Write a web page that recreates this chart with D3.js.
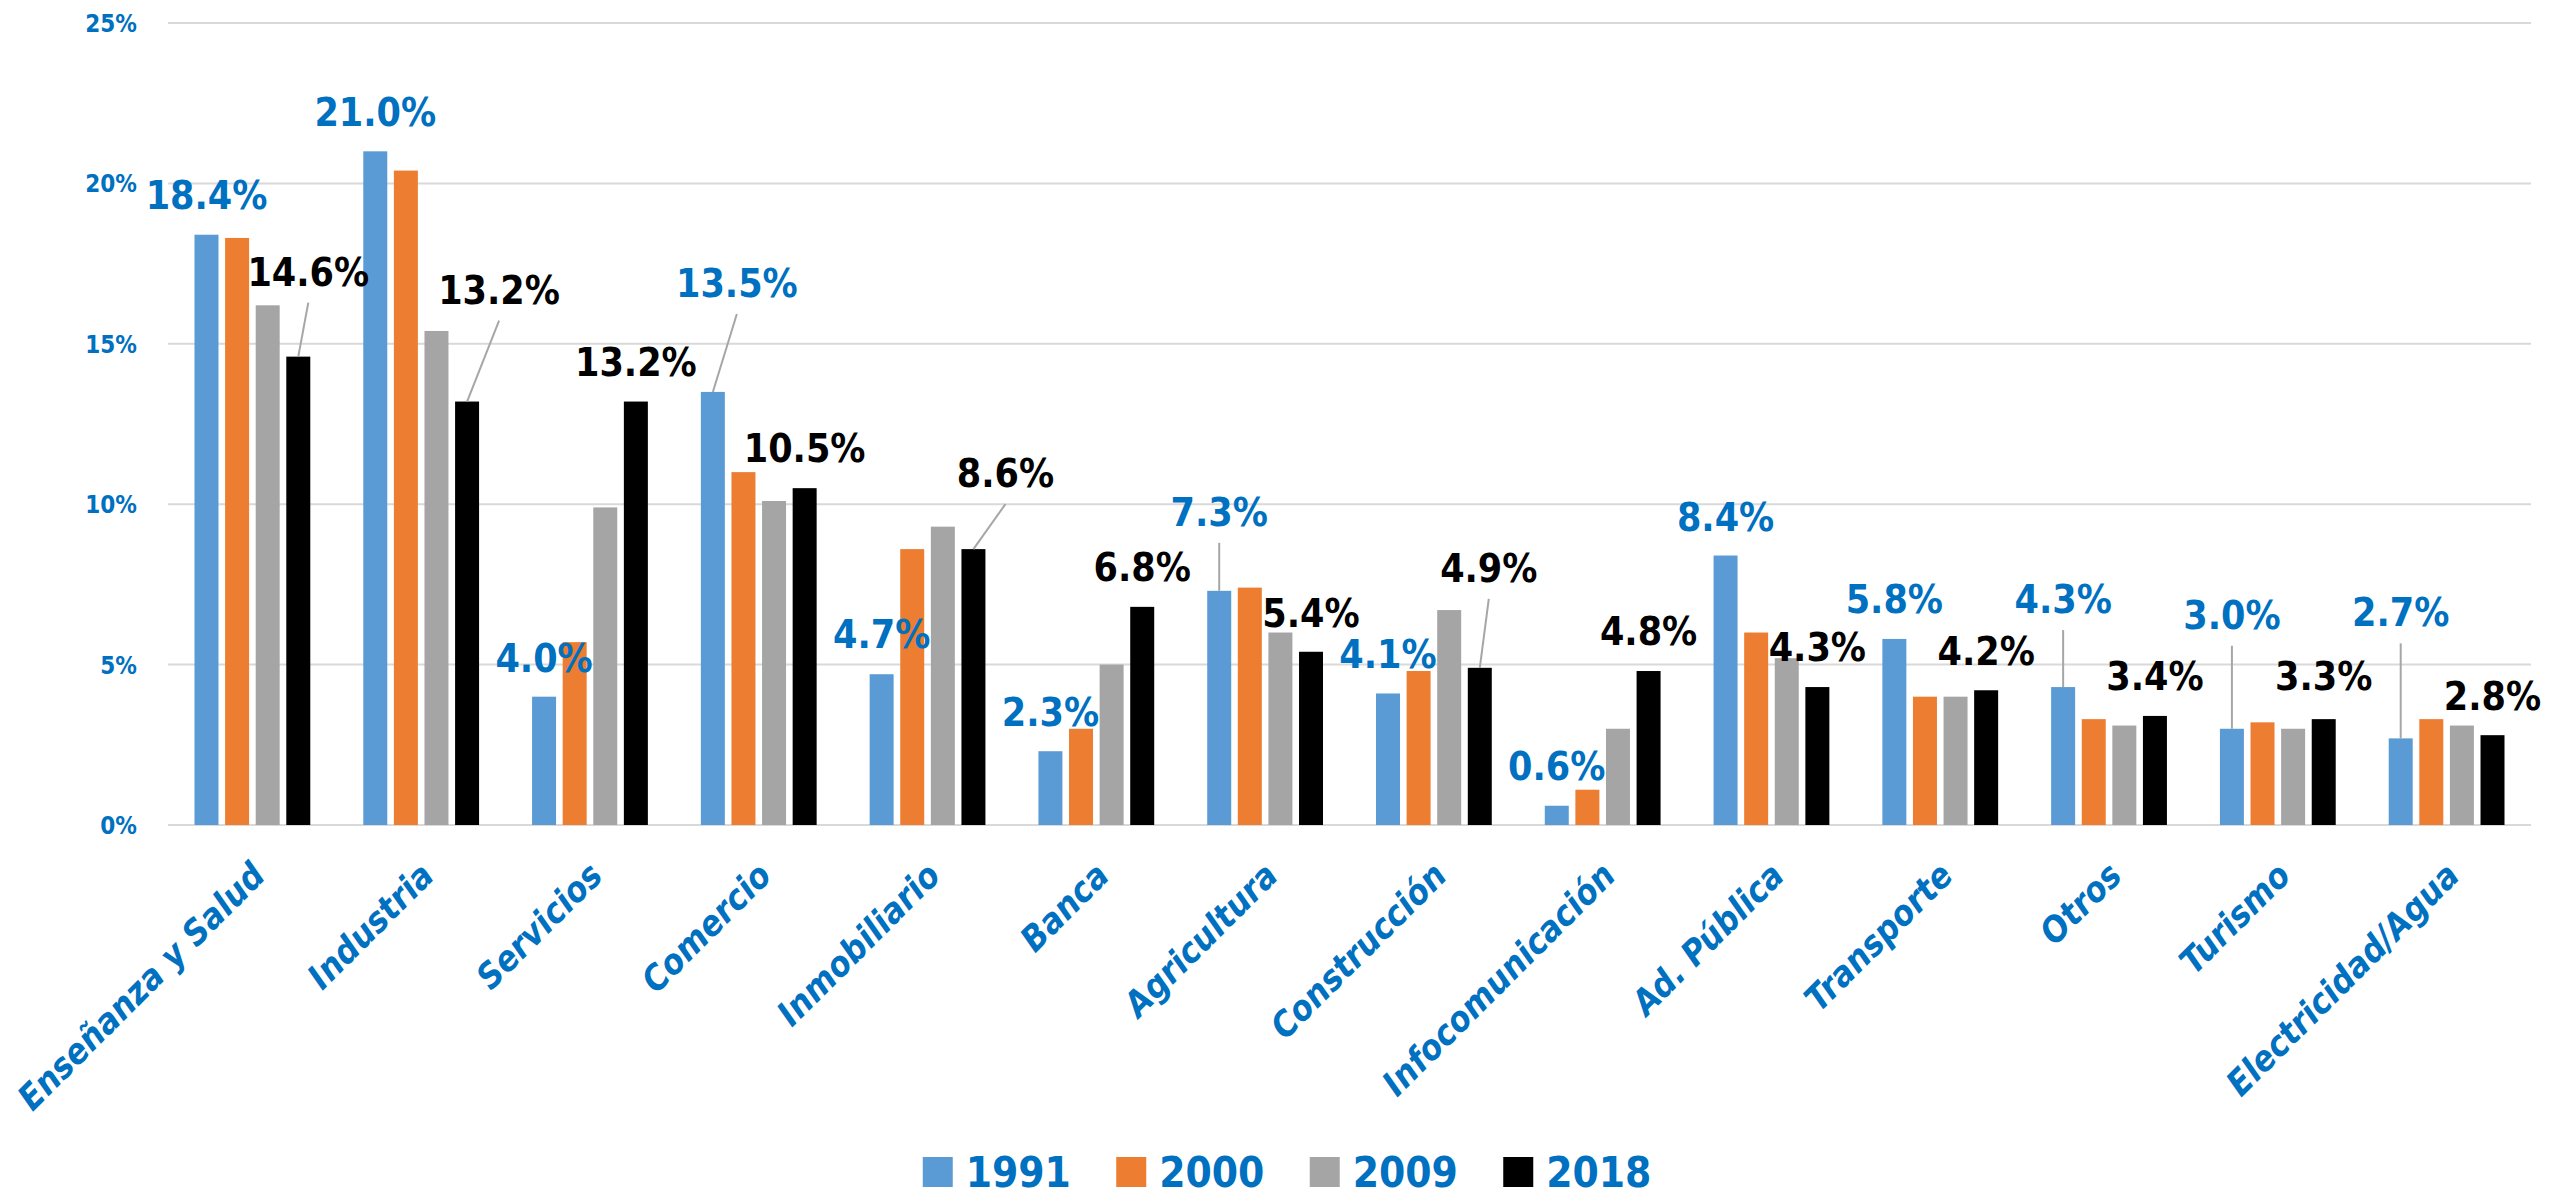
<!DOCTYPE html>
<html>
<head>
<meta charset="utf-8">
<script src="https://cdn.jsdelivr.net/npm/d3@7"></script>
<style>
  body { margin: 0; background: #fff; }
  text { font-family: "DejaVu Sans Condensed", "DejaVu Sans", sans-serif; font-stretch: condensed; font-weight: bold; }
</style>
</head>
<body>
<div id="chart"></div>
<script>
// Data
let categories = ["Enseñanza y Salud", "Industria", "Servicios", "Comercio", "Inmobiliario", "Banca",
    "Agricultura", "Construcción", "Infocomunicación", "Ad. Pública", "Transporte", "Otros", "Turismo", "Electricidad/Agua"];
let years = ["1991", "2000", "2009", "2018"];
let v1991 = [18.4, 21.0, 4.0, 13.5, 4.7, 2.3, 7.3, 4.1, 0.6, 8.4, 5.8, 4.3, 3.0, 2.7];
let v2000 = [18.3, 20.4, 5.7, 11.0, 8.6, 3.0, 7.4, 4.8, 1.1, 6.0, 4.0, 3.3, 3.2, 3.3];
let v2009 = [16.2, 15.4, 9.9, 10.1, 9.3, 5.0, 6.0, 6.7, 3.0, 5.2, 4.0, 3.1, 3.0, 3.1];
let v2018 = [14.6, 13.2, 13.2, 10.5, 8.6, 6.8, 5.4, 4.9, 4.8, 4.3, 4.2, 3.4, 3.3, 2.8];
let yTicks = [0, 5, 10, 15, 20, 25];

// Where the data labels sit, relative to the top of their bar [dx, dy]
let labelPos1991 = [[0,-26],[0,-25],[0,-25],[24,-95],[0,-26],[0,-25],[0,-65],[0,-25],[0,-26],[0,-25],[0,-26],[0,-74],[0,-100],[0,-112]];
let labelPos2018 = [[10,-71],[32,-98],[0,-26],[0,-26],[32,-62],[0,-26],[0,-25],[9,-86],[0,-26],[0,-26],[0,-25],[0,-26],[0,-29],[0,-25]];

let colors = ["#5B9BD5", "#ED7D31", "#A5A5A5", "#000000"];
let blueText = "#0070C0";

let series = [v1991, v2000, v2009, v2018];
let rows = categories.map(function(c, i) {
    return {cat: c, values: years.map(function(y, j) { return {year: y, s: j, value: series[j][i]}; })};
});

let width = 2552, height = 1196;
let margin = {top: 23, left: 168, right: 21, bottom: 371};
let plotW = width - margin.left - margin.right,
    plotH = height - margin.top - margin.bottom;

let svg = d3.select("#chart").append("svg")
    .attr("width", width)
    .attr("height", height)
    .style("background", "#fff");

let g = svg.append("g").attr("transform", "translate(" + margin.left + "," + margin.top + ")");

// Scales
let x0 = d3.scaleBand().domain(categories).range([0, plotW]).paddingInner(0.314).paddingOuter(0.157);
let x1 = d3.scaleBand().domain(years).range([0, x0.bandwidth()]).paddingInner(0.216);
let y = d3.scaleLinear().domain([0, 25]).range([plotH, 0]);

// Gridlines
g.selectAll(".grid")
    .data(yTicks)
    .enter().append("line")
    .attr("x1", 0).attr("x2", plotW)
    .attr("y1", function(d) { return y(d); })
    .attr("y2", function(d) { return y(d); })
    .attr("stroke", "#D9D9D9")
    .attr("stroke-width", 2);

// Y axis labels
let yAxis = g.append("g")
    .attr("transform", "translate(-28,0)")
    .call(d3.axisLeft(y).tickValues(yTicks).tickSize(0).tickFormat(function(d) { return d + "%"; }));
yAxis.select(".domain").remove();
yAxis.selectAll("text")
    .attr("fill", blueText)
    .style("font-size", "24px")
    .attr("dy", "0.35em");

// Bars
let groups = g.selectAll(".group")
    .data(rows)
    .enter().append("g")
    .attr("transform", function(d) { return "translate(" + x0(d.cat) + ",0)"; });

groups.selectAll("rect")
    .data(function(d) { return d.values; })
    .enter().append("rect")
    .attr("x", function(d) { return x1(d.year); })
    .attr("width", x1.bandwidth())
    .attr("y", function(d) { return y(d.value); })
    .attr("height", function(d) { return plotH - y(d.value); })
    .attr("fill", function(d) { return colors[d.s]; });

// Data labels for 1991 and 2018 with leader lines
function addLabels(vals, year, pos, color) {
    let items = categories.map(function(c, i) {
        let cx = x0(c) + x1(year) + x1.bandwidth() / 2;
        return {cx: cx, top: y(vals[i]), v: vals[i], dx: pos[i][0], dy: pos[i][1]};
    });
    g.selectAll(".leader-" + year)
        .data(items.filter(function(d) { return d.dy < -40; }))
        .enter().append("line")
        .attr("x1", function(d) { return d.cx + d.dx; })
        .attr("y1", function(d) { return d.top + d.dy + 17; })
        .attr("x2", function(d) { return d.cx; })
        .attr("y2", function(d) { return d.top; })
        .attr("stroke", "#A6A6A6")
        .attr("stroke-width", 2);
    g.selectAll(".label-" + year)
        .data(items)
        .enter().append("text")
        .attr("x", function(d) { return d.cx + d.dx; })
        .attr("y", function(d) { return d.top + d.dy; })
        .attr("text-anchor", "middle")
        .attr("fill", color)
        .style("font-size", "39px")
        .text(function(d) { return d.v.toFixed(1) + "%"; });
}
addLabels(v1991, "1991", labelPos1991, blueText);
addLabels(v2018, "2018", labelPos2018, "#000000");

// Category labels, rotated
g.selectAll(".cat")
    .data(categories)
    .enter().append("text")
    .attr("transform", function(d) {
        return "translate(" + (x0(d) + x0.bandwidth() / 2 + 6) + "," + (plotH + 44) + ") rotate(-45)";
    })
    .attr("text-anchor", "end")
    .attr("dy", "0.35em")
    .attr("fill", blueText)
    .style("font-size", "35px")
    .style("font-style", "italic")
    .text(function(d) { return d; });

// Legend
let legendStep = 193.5;
let legend = svg.append("g")
    .attr("transform", "translate(" + (1288 - (3 * legendStep + 150) / 2) + ",1157)");
let items = legend.selectAll(".item")
    .data(years)
    .enter().append("g")
    .attr("transform", function(d, i) { return "translate(" + i * legendStep + ",0)"; });
items.append("rect")
    .attr("width", 30).attr("height", 30)
    .attr("fill", function(d, i) { return colors[i]; });
items.append("text")
    .attr("x", 43).attr("y", 30)
    .attr("fill", blueText)
    .style("font-size", "42px")
    .text(function(d) { return d; });
</script>
</body>
</html>
